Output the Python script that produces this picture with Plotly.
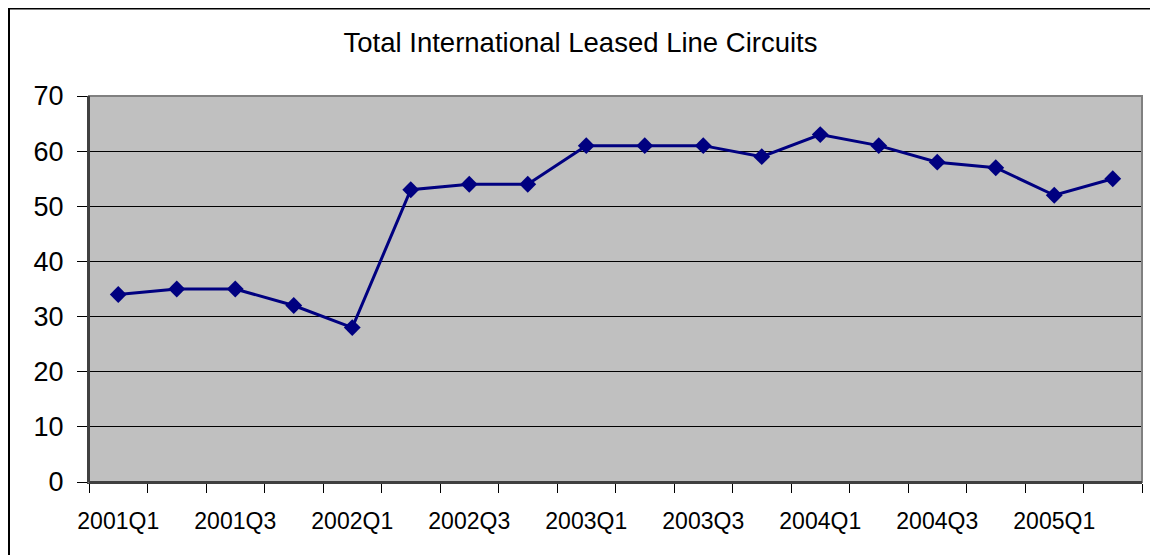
import plotly.graph_objects as go

quarters = ["2001Q1", "2001Q2", "2001Q3", "2001Q4",
            "2002Q1", "2002Q2", "2002Q3", "2002Q4",
            "2003Q1", "2003Q2", "2003Q3", "2003Q4",
            "2004Q1", "2004Q2", "2004Q3", "2004Q4",
            "2005Q1", "2005Q2"]
circuits = [34, 35, 35, 32, 28, 53, 54, 54, 61, 61, 61, 59, 63, 61, 58, 57, 52, 55]
y_ticks = [0, 10, 20, 30, 40, 50, 60, 70]

idx = list(range(len(quarters)))
label_idx = idx[::2]
label_txt = [quarters[i] for i in label_idx]

W, H = 1158, 555
# page body has an 8px default margin, so the figure is offset by 8px
OFF = 8
ml, mr, mt, mb = 89 - OFF, 1158 - 1142 + OFF, 96 - OFF, 555 - 482 + OFF
pw, ph = W - ml - mr, H - mt - mb

FONT = "Arial, Liberation Sans, sans-serif"

fig = go.Figure()
fig.add_trace(go.Scatter(
    x=idx, y=circuits, mode="lines+markers",
    line=dict(color="#000080", width=3),
    marker=dict(symbol="diamond", size=13, color="#000080",
                line=dict(width=0)),
    hoverinfo="skip", showlegend=False,
))

fig.update_layout(
    width=W, height=H,
    margin=dict(l=ml, r=mr, t=mt, b=mb, pad=0),
    paper_bgcolor="white",
    plot_bgcolor="#C0C0C0",
    font=dict(family=FONT, color="black"),
    title=dict(text="Total International Leased Line Circuits",
               font=dict(size=27.5, family=FONT, color="black"),
               x=(580.5 - OFF) / W, xanchor="center", xref="container",
               y=1 - (42 - OFF) / H, yanchor="middle", yref="container"),
    xaxis=dict(
        range=[-0.5, len(quarters) - 0.5],
        tickmode="array", tickvals=label_idx, ticktext=label_txt,
        ticks="", showgrid=False, zeroline=False,
        tickfont=dict(size=23, family=FONT, color="black"),
        showline=True, linecolor="#404040", linewidth=2, mirror=False,
        ticklabelstandoff=17,
        minor=dict(tickmode="linear", tick0=-0.5, dtick=1,
                   ticks="outside", ticklen=9, tickwidth=1,
                   tickcolor="black", showgrid=False),
    ),
    yaxis=dict(
        range=[0, 70], tickmode="array", tickvals=y_ticks,
        ticks="outside", ticklen=10, tickwidth=1, tickcolor="black",
        showgrid=True, gridcolor="black", gridwidth=1,
        zeroline=False,
        tickfont=dict(size=27, family=FONT, color="black"),
        showline=True, linecolor="#404040", linewidth=2,
        ticklabelstandoff=8,
    ),
    shapes=[
        dict(type="rect", xref="paper", yref="paper",
             x0=0, x1=1, y0=0, y1=1,
             line=dict(color="#808080", width=2), layer="above"),
        dict(type="line", xref="paper", yref="paper",
             x0=0, x1=1, y0=0, y1=0,
             line=dict(color="#404040", width=2), layer="above"),
        dict(type="line", xref="paper", yref="paper",
             x0=0, x1=0, y0=0, y1=1,
             line=dict(color="#404040", width=2), layer="above"),
        dict(type="rect", xref="paper", yref="paper",
             x0=(9 - OFF - ml) / pw, x1=(W + 5 - ml) / pw,
             y0=-(mb + 20) / ph, y1=1 + (mt - 0.5) / ph,
             line=dict(color="black", width=2), layer="above"),
    ],
)

fig.write_html("out.html")
